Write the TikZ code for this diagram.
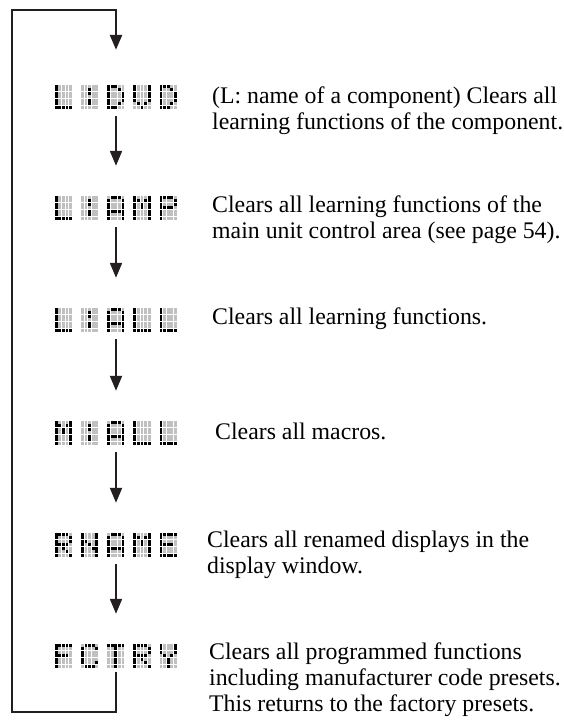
\documentclass[tikz,border=0pt]{standalone}
\usepackage{fontspec}
\setmainfont{Liberation Serif}
\usetikzlibrary{arrows.meta}
\definecolor{inkblack}{RGB}{35,31,32}
\definecolor{lcdon}{RGB}{0,0,0}
\definecolor{lcdoff}{RGB}{192,192,192}
\tikzset{
  lcd/.style={minimum width=122pt,minimum height=24pt,inner sep=0pt},
  note/.style={anchor=base west,align=left,inner sep=0pt,
    font=\fontsize{23.8}{26}\selectfont},
  flow/.style={-{Triangle[length=15pt,width=12pt]},line width=2pt,draw=inkblack},
  loopline/.style={-{Triangle[length=15pt,width=12pt]},line width=2.6pt,draw=inkblack}
}
% 5x7 glyphs, rows from the top
\newcommand{\defglyph}[2]{\expandafter\def\csname lcdg#1\endcsname{#2}}
\defglyph{L}{10000,10000,10000,10000,10000,10000,11111}
\defglyph{:}{00000,00100,00100,00000,00100,00100,00000}
\defglyph{D}{11100,10010,10001,10001,10001,10010,11100}
\defglyph{V}{10001,10001,10001,10001,10001,01010,00100}
\defglyph{A}{01110,10001,10001,10001,11111,10001,10001}
\defglyph{M}{10001,11011,10101,10101,10001,10001,10001}
\defglyph{P}{11110,10001,10001,11110,10000,10000,10000}
\defglyph{R}{11110,10001,10001,11110,10100,10010,10001}
\defglyph{N}{10001,10001,11001,10101,10011,10001,10001}
\defglyph{E}{11111,10000,10000,11110,10000,10000,11111}
\defglyph{F}{11111,10000,10000,11110,10000,10000,10000}
\defglyph{C}{01110,10001,10000,10000,10000,10001,01110}
\defglyph{T}{11111,00100,00100,00100,00100,00100,00100}
\defglyph{Y}{10001,10001,10001,01010,00100,00100,00100}
\newcommand{\lcddot}[2]{%
  \ifnum#2=1 \def\dotcol{lcdon}\else\def\dotcol{lcdoff}\fi
  \fill[\dotcol] ({\k*26.2+#1*3.6},{\r*3.5}) rectangle ++(2.8,3);}
\newcommand{\lcdrow}[5]{\lcddot{0}{#1}\lcddot{1}{#2}\lcddot{2}{#3}\lcddot{3}{#4}\lcddot{4}{#5}}
\newcommand{\lcddisplay}[2]{%
  \begin{scope}[shift={(#1.north west)}]
    \foreach \g [count=\k from 0] in {#2} {
      \expandafter\let\expandafter\bitmap\csname lcdg\g\endcsname
      \foreach \rowbits [count=\r from 0] in \bitmap {\expandafter\lcdrow\rowbits}
    }
  \end{scope}}

\begin{document}
\begin{tikzpicture}[x=1pt,y=-1pt]
  \useasboundingbox (0,0) rectangle (564,724);
  % displays
  \node[lcd] (d1) at (116,97) {};
  \node[lcd] (d2) at (116,208) {};
  \node[lcd] (d3) at (116,320) {};
  \node[lcd] (d4) at (116,433) {};
  \node[lcd] (d5) at (116,545) {};
  \node[lcd] (d6) at (116,656) {};
  \lcddisplay{d1}{L,:,D,V,D}
  \lcddisplay{d2}{L,:,A,M,P}
  \lcddisplay{d3}{L,:,A,L,L}
  \lcddisplay{d4}{M,:,A,L,L}
  \lcddisplay{d5}{R,N,A,M,E}
  \lcddisplay{d6}{F,C,T,R,Y}
  % descriptions (placed at the baseline of the last line)
  \node[note] (t1) at (212,129.5) {(L: name of a component) Clears all\\
    learning functions of the component.};
  \node[note] (t2) at (212,238.5) {Clears all learning functions of the\\
    main unit control area (see page 54).};
  \node[note] (t3) at (212,324.5) {Clears all learning functions.};
  \node[note] (t4) at (215,439.5) {Clears all macros.};
  \node[note] (t5) at (207,573.5) {Clears all renamed displays in the\\
    display window.};
  \node[note] (t6) at (209,711.5) {Clears all programmed functions\\
    including manufacturer code presets.\\
    This returns to the factory presets.};
  % arrows
  \draw[flow,shorten <=7pt,shorten >=30pt] (d1.south) -- (d2.north);
  \draw[flow,shorten <=7pt,shorten >=30pt] (d2.south) -- (d3.north);
  \draw[flow,shorten <=7pt,shorten >=30pt] (d3.south) -- (d4.north);
  \draw[flow,shorten <=7pt,shorten >=30pt] (d4.south) -- (d5.north);
  \draw[flow,shorten <=7pt,shorten >=30pt] (d5.south) -- (d6.north);
  % loop back
  \coordinate (lbot) at (12,712);
  \coordinate (ltop) at (12,10);
  \draw[loopline,shorten <=4pt,shorten >=35pt]
    (d6.south) |- (lbot) -- (ltop) -| (d1.north);
\end{tikzpicture}
\end{document}
